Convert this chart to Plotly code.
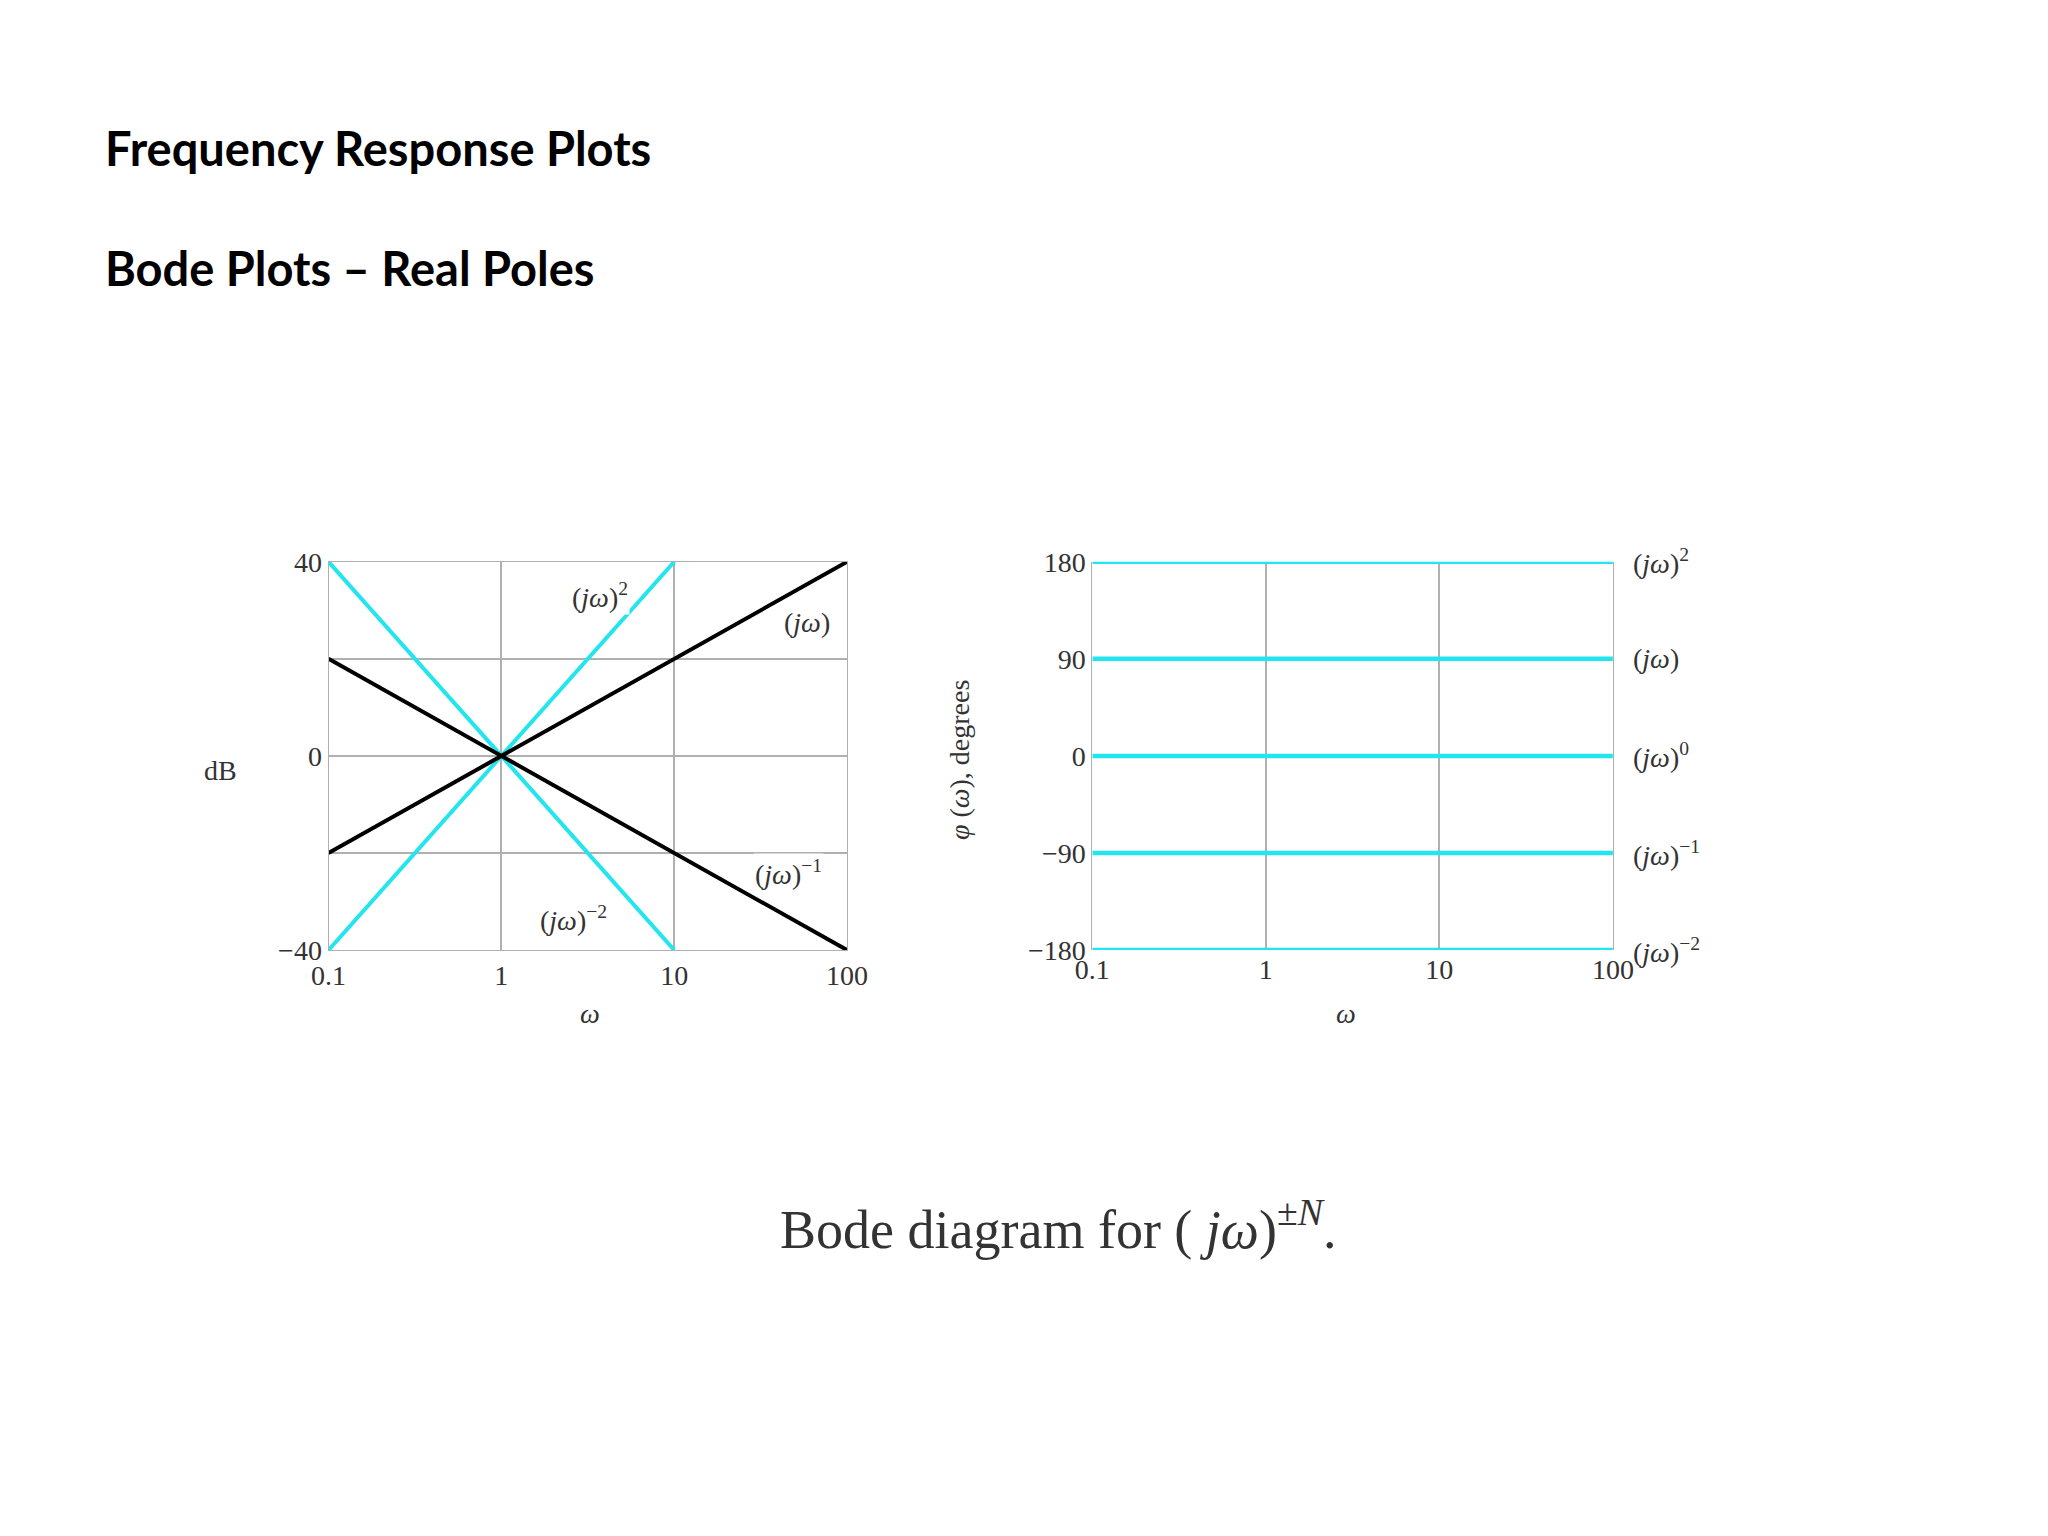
import math
import plotly.graph_objects as go

w_end = [0.1, 100]
w_sq = [0.1, 10]
mag_jw = [-20, 40]
mag_jw_inv = [20, -40]
mag_jw2 = [-40, 40]
mag_jw_inv2 = [40, -40]
phases = [180, 90, 0, -90, -180]
phase_labels = ["(<i>jω</i>)<sup>2</sup>", "(<i>jω</i>)", "(<i>jω</i>)<sup>0</sup>",
                "(<i>jω</i>)<sup>−1</sup>", "(<i>jω</i>)<sup>−2</sup>"]
xticks = [0.1, 1, 10, 100]
xticklabels = ["0.1", "1", "10", "100"]
mag_ticks = [-40, -20, 0, 20, 40]
mag_ticklabels = ["−40", "", "0", "", "40"]
ph_ticklabels = ["−180", "−90", "0", "90", "180"]

CYAN = "#22e5ef"
SERIF = "Liberation Serif"
fig = go.Figure()
for x, y, c in [(w_sq, mag_jw2, CYAN), (w_sq, mag_jw_inv2, CYAN),
                (w_end, mag_jw, "black"), (w_end, mag_jw_inv, "black")]:
    fig.add_trace(go.Scatter(x=x, y=y, mode="lines", line=dict(color=c, width=4), cliponaxis=False,
                             xaxis="x", yaxis="y", showlegend=False))
for p in phases:
    fig.add_trace(go.Scatter(x=w_end, y=[p, p], mode="lines", line=dict(color=CYAN, width=4.5),
                             cliponaxis=False, xaxis="x2", yaxis="y2", showlegend=False))

tf = dict(family=SERIF, size=28, color="#333")
ax = dict(type="log", range=[-1, 2], tickvals=xticks, ticktext=xticklabels,
          showgrid=True, gridcolor="#b0b0b0", gridwidth=1.5, showline=True, linecolor="#b0b0b0",
          mirror=True, zeroline=False, tickfont=tf, ticks="")
fig.update_layout(
    width=2048, height=1536, paper_bgcolor="white", plot_bgcolor="white",
    margin=dict(l=0, r=0, t=0, b=0),
    xaxis=dict(ax, domain=[0.151, 0.409], anchor="y"),
    xaxis2=dict(ax, domain=[0.531, 0.790], anchor="y2", showline=False),
    yaxis=dict(range=[-40, 40], tickvals=mag_ticks, ticktext=mag_ticklabels, domain=[0.384, 0.642],
               showgrid=True, gridcolor="#b0b0b0", gridwidth=1.5, showline=True, linecolor="#b0b0b0",
               mirror=True, zeroline=False, ticks="", anchor="x", tickfont=tf),
    yaxis2=dict(range=[-180, 180], tickvals=phases[::-1], ticktext=ph_ticklabels, domain=[0.384, 0.642],
                showgrid=False, showline=True, linecolor="#b0b0b0", mirror=True, zeroline=False,
                ticks="", anchor="x2", tickfont=tf),
)
ann = []
f = dict(family=SERIF, size=28, color="#333")
for x, y, t in [(3.7, 33, "(<i>jω</i>)<sup>2</sup>"), (59, 27.5, "(<i>jω</i>)"),
                (46, -24, "(<i>jω</i>)<sup>−1</sup>"), (2.6, -33.5, "(<i>jω</i>)<sup>−2</sup>")]:
    ann.append(dict(x=math.log10(x), y=y, xref="x", yref="y", text=t, showarrow=False, font=f,
                    xanchor="center", bgcolor="white"))
for p, t in zip(phases, phase_labels):
    ann.append(dict(x=0.799, y=p, xref="paper", yref="y2", text=t, showarrow=False, font=f,
                    xanchor="left"))
ann += [
    dict(x=0.088, y=0.5035, xref="paper", yref="paper", text="dB", showarrow=False, font=f),
    dict(x=0.275, y=0.33, xref="paper", yref="paper", text="<i>ω</i>", showarrow=False, font=f),
    dict(x=0.657, y=0.33, xref="paper", yref="paper", text="<i>ω</i>", showarrow=False, font=f),
    dict(x=0.465, y=0.51, xref="paper", yref="paper", text="<i>φ</i> (<i>ω</i>), degrees",
         showarrow=False, font=f, textangle=-90),
    dict(x=0.039, y=0.937, xref="paper", yref="paper", xanchor="left", text="<b>Frequency Response Plots</b>",
         showarrow=False, font=dict(family="Lato", size=47, color="black")),
    dict(x=0.039, y=0.857, xref="paper", yref="paper", xanchor="left", text="<b>Bode Plots – Real Poles</b>",
         showarrow=False, font=dict(family="Lato", size=47, color="black")),
    dict(x=0.514, y=0.177, xref="paper", yref="paper", text="Bode diagram for ( <i>jω</i>)<sup>±<i>N</i></sup>.",
         showarrow=False, font=dict(family=SERIF, size=54, color="#333")),
]
fig.update_layout(annotations=ann)
fig.write_html("out.html")
